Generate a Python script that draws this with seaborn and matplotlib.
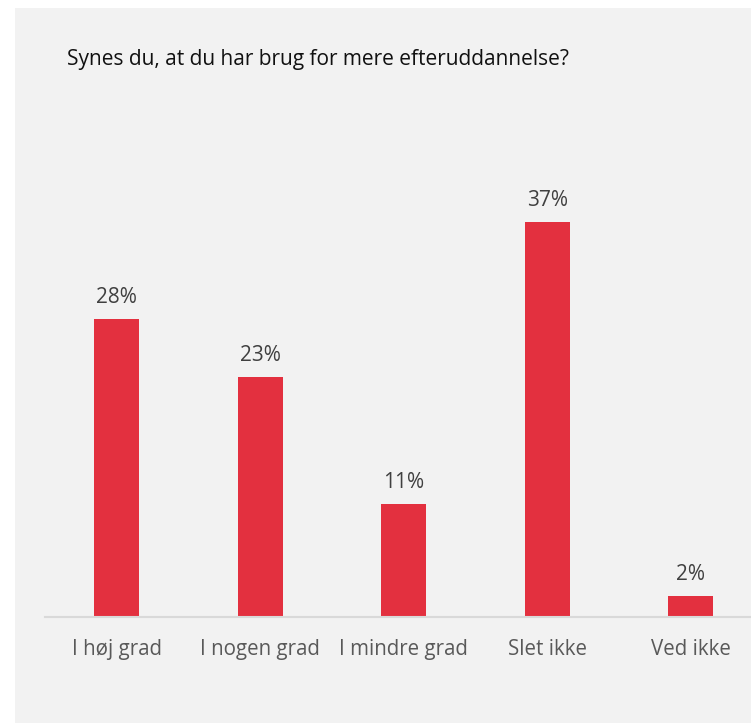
import matplotlib
matplotlib.use("Agg")
import matplotlib.pyplot as plt
import seaborn as sns
import pandas as pd
from matplotlib.patches import Rectangle

categories = ["I høj grad", "I nogen grad", "I mindre grad", "Slet ikke", "Ved ikke"]
values = [28.1, 22.6, 10.6, 37.3, 1.94]
labels = ["28%", "23%", "11%", "37%", "2%"]
title = "Synes du, at du har brug for mere efteruddannelse?"

sns.set_theme(style="white")
plt.rcParams["font.family"] = ["Open Sans", "DejaVu Sans"]

W, H = 751, 723
fig = plt.figure(figsize=(W / 100, H / 100), dpi=100)
fig.patch.set_facecolor("white")
bg = Rectangle((15 / W, 0), 1 - 15 / W, (H - 8) / H,
               transform=fig.transFigure, facecolor="#f2f2f2",
               edgecolor="none", zorder=-10)
fig.add_artist(bg)

base_y = 616.5
px_per = 10.58
ymax = 40
ax_h = ymax * px_per
ax = fig.add_axes([44.7 / W, (H - base_y) / H, 5 * 143.6 / W, ax_h / H])
ax.set_facecolor("none")
ax.set_zorder(1)

df = pd.DataFrame({"cat": categories, "val": values})
sns.barplot(data=df, x="cat", y="val", color="#E3303F", saturation=1,
            width=0.313, linewidth=0, ax=ax)
ax.set_xlim(-0.5, 4.5)
ax.set_ylim(0, ymax)
ax.set_xlabel("")
ax.set_ylabel("")
ax.set_yticks([])
for s in ["top", "right", "left"]:
    ax.spines[s].set_visible(False)
ax.spines["bottom"].set_color("#d9d9d9")
ax.spines["bottom"].set_linewidth(1.5)
ax.tick_params(axis="x", length=0, pad=16.5, labelsize=14.8, labelcolor="#595959")

for i, (v, lab) in enumerate(zip(values, labels)):
    ax.annotate(lab, (i, v), xytext=(0, 11.5), textcoords="offset points",
                ha="center", va="baseline", fontsize=15, color="#404040")

fig.text(67 / W, 1 - 65 / H, title, ha="left", va="baseline",
         fontsize=15.05, color="#111111")

fig.savefig("out.png", dpi=100)
